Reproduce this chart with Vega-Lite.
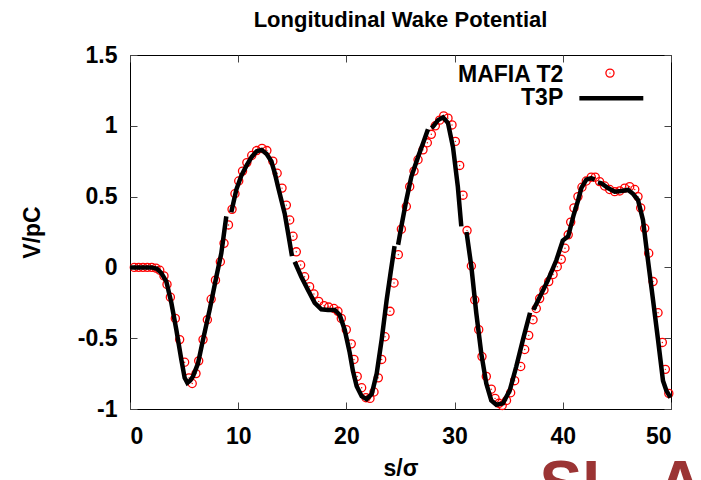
{
  "$schema": "https://vega.github.io/schema/vega-lite/v6.json",
  "width": 541,
  "height": 354,
  "autosize": {"type": "none"},
  "padding": {"left": 130, "top": 55, "right": 30, "bottom": 71},
  "background": "white",
  "title": {"text": "Longitudinal Wake Potential", "font": "Liberation Sans", "fontSize": 22, "fontWeight": "bold", "color": "black", "anchor": "middle", "offset": 12},
  "config": {
    "view": {"stroke": "black", "strokeWidth": 1},
    "axis": {"domain": false, "grid": false, "tickSize": -7, "tickColor": "#444", "tickWidth": 1,
      "labelFont": "Liberation Sans", "labelFontSize": 23, "labelFontWeight": "bold", "labelColor": "black",
      "titleFont": "Liberation Sans", "titleFontSize": 23, "titleFontWeight": "bold", "titleColor": "black"}
  },
  "datasets": {
    "mafia": [
      {"s": 0.4, "v": 0}, {"s": 0.8, "v": 0}, {"s": 1.2, "v": 0}, {"s": 1.6, "v": 0}, {"s": 2.0, "v": 0}, {"s": 2.4, "v": -0.005},
      {"s": 2.75, "v": -0.02}, {"s": 3.14, "v": -0.06}, {"s": 3.42, "v": -0.12}, {"s": 3.73, "v": -0.21}, {"s": 4.19, "v": -0.36},
      {"s": 4.59, "v": -0.51}, {"s": 5.05, "v": -0.67}, {"s": 5.45, "v": -0.78}, {"s": 5.75, "v": -0.82}, {"s": 6.1, "v": -0.75},
      {"s": 6.35, "v": -0.66}, {"s": 6.75, "v": -0.51}, {"s": 7.15, "v": -0.37}, {"s": 7.5, "v": -0.225}, {"s": 7.9, "v": -0.09},
      {"s": 8.35, "v": 0.04}, {"s": 8.69, "v": 0.17}, {"s": 9.1, "v": 0.3}, {"s": 9.43, "v": 0.41}, {"s": 9.7, "v": 0.52},
      {"s": 10.05, "v": 0.61}, {"s": 10.4, "v": 0.68}, {"s": 10.8, "v": 0.74}, {"s": 11.25, "v": 0.79}, {"s": 11.7, "v": 0.825},
      {"s": 12.2, "v": 0.84}, {"s": 12.65, "v": 0.825}, {"s": 13.2, "v": 0.75}, {"s": 13.6, "v": 0.665}, {"s": 14.05, "v": 0.56},
      {"s": 14.45, "v": 0.44}, {"s": 14.76, "v": 0.335}, {"s": 15.07, "v": 0.22}, {"s": 15.37, "v": 0.11}, {"s": 15.77, "v": 0.017},
      {"s": 16.14, "v": -0.066}, {"s": 16.6, "v": -0.136}, {"s": 17.0, "v": -0.188}, {"s": 17.44, "v": -0.24}, {"s": 17.93, "v": -0.27},
      {"s": 18.36, "v": -0.28}, {"s": 18.85, "v": -0.29}, {"s": 19.22, "v": -0.31}, {"s": 19.53, "v": -0.36}, {"s": 19.99, "v": -0.44},
      {"s": 20.45, "v": -0.54}, {"s": 20.7, "v": -0.65}, {"s": 21.0, "v": -0.77}, {"s": 21.41, "v": -0.85}, {"s": 21.81, "v": -0.92},
      {"s": 22.18, "v": -0.925}, {"s": 22.55, "v": -0.88}, {"s": 22.95, "v": -0.78}, {"s": 23.26, "v": -0.65}, {"s": 23.57, "v": -0.49},
      {"s": 24.03, "v": -0.31}, {"s": 24.4, "v": -0.11}, {"s": 24.8, "v": 0.09}, {"s": 25.08, "v": 0.27}, {"s": 25.54, "v": 0.43},
      {"s": 25.85, "v": 0.57}, {"s": 26.25, "v": 0.68}, {"s": 26.62, "v": 0.76}, {"s": 27.08, "v": 0.83}, {"s": 27.48, "v": 0.88},
      {"s": 27.85, "v": 0.94}, {"s": 28.22, "v": 1.0}, {"s": 28.62, "v": 1.04}, {"s": 28.99, "v": 1.07}, {"s": 29.39, "v": 1.054},
      {"s": 29.76, "v": 1.006}, {"s": 30.07, "v": 0.89}, {"s": 30.47, "v": 0.72}, {"s": 30.78, "v": 0.51}, {"s": 31.15, "v": 0.26},
      {"s": 31.55, "v": 0.01}, {"s": 31.86, "v": -0.23}, {"s": 32.23, "v": -0.44}, {"s": 32.53, "v": -0.63}, {"s": 32.93, "v": -0.77},
      {"s": 33.39, "v": -0.86}, {"s": 33.74, "v": -0.925}, {"s": 34.1, "v": -0.96}, {"s": 34.4, "v": -0.975}, {"s": 34.8, "v": -0.94},
      {"s": 35.18, "v": -0.885}, {"s": 35.55, "v": -0.8}, {"s": 36.11, "v": -0.7}, {"s": 36.48, "v": -0.58}, {"s": 36.85, "v": -0.48},
      {"s": 37.25, "v": -0.37}, {"s": 37.55, "v": -0.29}, {"s": 37.86, "v": -0.22}, {"s": 38.26, "v": -0.16}, {"s": 38.7, "v": -0.1},
      {"s": 39.1, "v": -0.05}, {"s": 39.49, "v": 0.005}, {"s": 39.86, "v": 0.057}, {"s": 40.2, "v": 0.135}, {"s": 40.5, "v": 0.23},
      {"s": 40.73, "v": 0.32}, {"s": 41.03, "v": 0.42}, {"s": 41.4, "v": 0.5}, {"s": 41.77, "v": 0.566}, {"s": 42.17, "v": 0.61},
      {"s": 42.63, "v": 0.637}, {"s": 43.0, "v": 0.637}, {"s": 43.4, "v": 0.606}, {"s": 43.87, "v": 0.575}, {"s": 44.33, "v": 0.55},
      {"s": 44.8, "v": 0.535}, {"s": 45.26, "v": 0.54}, {"s": 45.72, "v": 0.56}, {"s": 46.18, "v": 0.57}, {"s": 46.65, "v": 0.55},
      {"s": 46.95, "v": 0.5}, {"s": 47.2, "v": 0.42}, {"s": 47.57, "v": 0.276}, {"s": 47.94, "v": 0.1}, {"s": 48.34, "v": -0.1},
      {"s": 48.8, "v": -0.32}, {"s": 49.2, "v": -0.53}, {"s": 49.48, "v": -0.72}, {"s": 49.8, "v": -0.89}
    ],
    "t3p": [
      {"seg": 1, "s": 0, "v": 0}, {"seg": 1, "s": 1, "v": 0}, {"seg": 1, "s": 2, "v": 0}, {"seg": 1, "s": 2.5, "v": -0.01},
      {"seg": 1, "s": 2.9, "v": -0.04}, {"seg": 1, "s": 3.36, "v": -0.1}, {"seg": 1, "s": 3.82, "v": -0.25}, {"seg": 1, "s": 4.28, "v": -0.44},
      {"seg": 1, "s": 4.74, "v": -0.65}, {"seg": 1, "s": 5.05, "v": -0.78}, {"seg": 1, "s": 5.3, "v": -0.815}, {"seg": 1, "s": 5.55, "v": -0.8},
      {"seg": 1, "s": 5.82, "v": -0.77}, {"seg": 1, "s": 6.28, "v": -0.68}, {"seg": 1, "s": 6.75, "v": -0.51}, {"seg": 1, "s": 7.36, "v": -0.3},
      {"seg": 1, "s": 7.98, "v": -0.066}, {"seg": 1, "s": 8.44, "v": 0.1}, {"seg": 1, "s": 8.9, "v": 0.36},
      {"seg": 2, "s": 9.36, "v": 0.39}, {"seg": 2, "s": 9.83, "v": 0.55}, {"seg": 2, "s": 10.3, "v": 0.65}, {"seg": 2, "s": 10.78, "v": 0.72},
      {"seg": 2, "s": 11.25, "v": 0.78}, {"seg": 2, "s": 11.71, "v": 0.82}, {"seg": 2, "s": 12.17, "v": 0.83}, {"seg": 2, "s": 12.63, "v": 0.8},
      {"seg": 2, "s": 13.06, "v": 0.75}, {"seg": 2, "s": 13.37, "v": 0.67}, {"seg": 2, "s": 13.68, "v": 0.57}, {"seg": 2, "s": 14.3, "v": 0.38},
      {"seg": 2, "s": 14.64, "v": 0.23}, {"seg": 2, "s": 14.97, "v": 0.08},
      {"seg": 3, "s": 15.22, "v": 0.04}, {"seg": 3, "s": 15.83, "v": -0.066}, {"seg": 3, "s": 16.45, "v": -0.16}, {"seg": 3, "s": 17.07, "v": -0.25},
      {"seg": 3, "s": 17.68, "v": -0.296}, {"seg": 3, "s": 18.3, "v": -0.3}, {"seg": 3, "s": 18.92, "v": -0.3}, {"seg": 3, "s": 19.38, "v": -0.336},
      {"seg": 3, "s": 19.84, "v": -0.44}, {"seg": 3, "s": 20.3, "v": -0.6}, {"seg": 3, "s": 20.6, "v": -0.73}, {"seg": 3, "s": 20.95, "v": -0.84},
      {"seg": 3, "s": 21.41, "v": -0.91}, {"seg": 3, "s": 21.87, "v": -0.93}, {"seg": 3, "s": 22.34, "v": -0.895}, {"seg": 3, "s": 22.8, "v": -0.75},
      {"seg": 3, "s": 23.26, "v": -0.51}, {"seg": 3, "s": 23.72, "v": -0.23}, {"seg": 3, "s": 24.1, "v": -0.03}, {"seg": 3, "s": 24.45, "v": 0.15},
      {"seg": 4, "s": 24.78, "v": 0.16}, {"seg": 4, "s": 25.08, "v": 0.29}, {"seg": 4, "s": 25.54, "v": 0.476}, {"seg": 4, "s": 26.0, "v": 0.64},
      {"seg": 4, "s": 26.62, "v": 0.78}, {"seg": 4, "s": 27.1, "v": 0.88}, {"seg": 4, "s": 27.54, "v": 0.976},
      {"seg": 5, "s": 27.85, "v": 0.985}, {"seg": 5, "s": 28.0, "v": 0.994}, {"seg": 5, "s": 28.47, "v": 1.04}, {"seg": 5, "s": 28.93, "v": 1.06},
      {"seg": 5, "s": 29.39, "v": 1.02}, {"seg": 5, "s": 29.85, "v": 0.85}, {"seg": 5, "s": 30.3, "v": 0.57}, {"seg": 5, "s": 30.62, "v": 0.29},
      {"seg": 6, "s": 31.1, "v": 0.25}, {"seg": 6, "s": 31.55, "v": 0.005}, {"seg": 6, "s": 32.0, "v": -0.32}, {"seg": 6, "s": 32.47, "v": -0.61},
      {"seg": 6, "s": 32.93, "v": -0.82}, {"seg": 6, "s": 33.39, "v": -0.94}, {"seg": 6, "s": 33.86, "v": -0.97}, {"seg": 6, "s": 34.47, "v": -0.96},
      {"seg": 6, "s": 35.09, "v": -0.87}, {"seg": 6, "s": 35.7, "v": -0.7}, {"seg": 6, "s": 36.32, "v": -0.51}, {"seg": 6, "s": 36.97, "v": -0.32},
      {"seg": 7, "s": 37.28, "v": -0.3}, {"seg": 7, "s": 37.86, "v": -0.21}, {"seg": 7, "s": 38.63, "v": -0.09}, {"seg": 7, "s": 39.4, "v": 0.05},
      {"seg": 7, "s": 40.0, "v": 0.19}, {"seg": 7, "s": 40.5, "v": 0.22}, {"seg": 7, "s": 41.0, "v": 0.37}, {"seg": 7, "s": 41.4, "v": 0.47},
      {"seg": 7, "s": 41.71, "v": 0.56}, {"seg": 7, "s": 42.17, "v": 0.62}, {"seg": 7, "s": 42.63, "v": 0.63}, {"seg": 7, "s": 42.95, "v": 0.62},
      {"seg": 8, "s": 43.25, "v": 0.6}, {"seg": 8, "s": 43.56, "v": 0.594}, {"seg": 8, "s": 44.18, "v": 0.56}, {"seg": 8, "s": 44.8, "v": 0.535},
      {"seg": 8, "s": 45.4, "v": 0.54}, {"seg": 8, "s": 46.03, "v": 0.547}, {"seg": 8, "s": 46.49, "v": 0.52}, {"seg": 8, "s": 46.95, "v": 0.476},
      {"seg": 8, "s": 47.41, "v": 0.335}, {"seg": 8, "s": 47.87, "v": 0.05}, {"seg": 8, "s": 48.34, "v": -0.23}, {"seg": 8, "s": 48.8, "v": -0.51},
      {"seg": 8, "s": 49.26, "v": -0.8}, {"seg": 8, "s": 49.57, "v": -0.87}, {"seg": 8, "s": 49.95, "v": -0.92}
    ],
    "legendText": [
      {"label": "MAFIA T2", "s": 40.04, "v": 1.362},
      {"label": "T3P", "s": 40.04, "v": 1.195}
    ],
    "legendPoint": [{"s": 44.36, "v": 1.372}],
    "legendLine": [{"s": 41.53, "v": 1.195}, {"s": 47.44, "v": 1.195}],
    "logo": [
      {"letter": "S", "s": 37.84, "v": -1.685},
      {"letter": "L", "s": 41.8, "v": -1.685},
      {"letter": "A", "s": 48.7, "v": -1.685}
    ]
  },
  "layer": [
    {
      "data": {"name": "mafia"},
      "mark": {"type": "point", "shape": "circle", "size": 66, "strokeWidth": 1.3, "color": "red", "filled": false, "opacity": 1},
      "encoding": {
        "x": {"field": "s", "type": "quantitative", "scale": {"domain": [0, 50], "nice": false},
          "axis": {"orient": "top", "labels": false, "title": null, "values": [0, 10, 20, 30, 40, 50]}},
        "y": {"field": "v", "type": "quantitative", "scale": {"domain": [-1, 1.5], "nice": false},
          "axis": {"orient": "right", "labels": false, "title": null, "values": [-1, -0.5, 0, 0.5, 1, 1.5]}}
      }
    },
    {
      "data": {"name": "mafia"},
      "mark": {"type": "circle", "size": 2, "color": "red", "opacity": 1},
      "encoding": {
        "x": {"field": "s", "type": "quantitative", "axis": null},
        "y": {"field": "v", "type": "quantitative", "axis": null}
      }
    },
    {
      "data": {"name": "t3p"},
      "mark": {"type": "line", "color": "black", "strokeWidth": 4.5, "strokeCap": "butt"},
      "encoding": {
        "x": {"field": "s", "type": "quantitative",
          "axis": {"orient": "bottom", "title": "s/σ", "values": [0, 10, 20, 30, 40, 50], "labelDx": 4, "labelPadding": 23, "titlePadding": 9, "labelExpr": "'' + datum.value"}},
        "y": {"field": "v", "type": "quantitative",
          "axis": {"orient": "left", "title": "V/pC", "values": [-1, -0.5, 0, 0.5, 1, 1.5], "labelPadding": 20, "titlePadding": 33, "labelExpr": "'' + datum.value"}},
        "detail": {"field": "seg", "type": "nominal"}
      }
    },
    {
      "data": {"name": "legendText"},
      "mark": {"type": "text", "align": "right", "baseline": "middle", "font": "Liberation Sans", "fontSize": 23, "fontWeight": "bold", "color": "black"},
      "encoding": {
        "x": {"field": "s", "type": "quantitative", "axis": null},
        "y": {"field": "v", "type": "quantitative", "axis": null},
        "text": {"field": "label"}
      }
    },
    {
      "data": {"name": "legendPoint"},
      "mark": {"type": "point", "shape": "circle", "size": 66, "strokeWidth": 1.3, "color": "red", "filled": false, "opacity": 1},
      "encoding": {
        "x": {"field": "s", "type": "quantitative", "axis": null},
        "y": {"field": "v", "type": "quantitative", "axis": null}
      }
    },
    {
      "data": {"name": "legendPoint"},
      "mark": {"type": "circle", "size": 2, "color": "red", "opacity": 1},
      "encoding": {
        "x": {"field": "s", "type": "quantitative", "axis": null},
        "y": {"field": "v", "type": "quantitative", "axis": null}
      }
    },
    {
      "data": {"name": "legendLine"},
      "mark": {"type": "line", "color": "black", "strokeWidth": 4.5, "strokeCap": "butt"},
      "encoding": {
        "x": {"field": "s", "type": "quantitative", "axis": null},
        "y": {"field": "v", "type": "quantitative", "axis": null}
      }
    },
    {
      "data": {"name": "logo"},
      "mark": {"type": "text", "align": "left", "baseline": "alphabetic", "font": "Liberation Sans", "fontSize": 64, "fontWeight": "bold", "color": "#9b3434"},
      "encoding": {
        "x": {"field": "s", "type": "quantitative", "axis": null},
        "y": {"field": "v", "type": "quantitative", "axis": null},
        "text": {"field": "letter"}
      }
    }
  ],
  "resolve": {"axis": {"x": "independent", "y": "independent"}}
}
